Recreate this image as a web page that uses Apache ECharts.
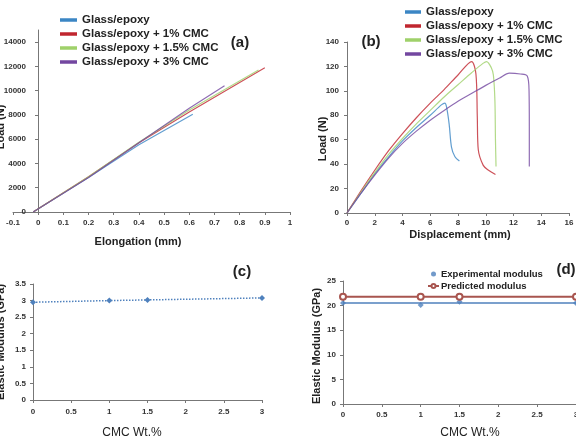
<!DOCTYPE html>
<html>
<head>
<meta charset="utf-8">
<script src="https://cdn.jsdelivr.net/npm/echarts@6/dist/echarts.min.js"></script>
<style>
html, body { margin: 0; padding: 0; background: #fff; }
#main { width: 576px; height: 443px; }
</style>
</head>
<body>
<div id="main"></div>
<script>
var myChart = echarts.init(document.getElementById('main'));

// legend names, shared by (a) and (b)
var names = ['Glass/epoxy', 'Glass/epoxy + 1% CMC', 'Glass/epoxy + 1.5% CMC', 'Glass/epoxy + 3% CMC'];
var colors = ['#3b86c4', '#c0262f', '#9fd16a', '#7347a0'];

// (a) load (N) vs elongation (mm)
var elongA0 = [[-0.02, 0], [0.2, 2850], [0.4, 5550], [0.614, 8050]];
var elongA1 = [[-0.02, 0], [0.2, 2900], [0.4, 5700], [0.6, 8250], [0.9, 11890]];
var elongA2 = [[-0.02, 0], [0.2, 2900], [0.4, 5750], [0.6, 8400], [0.875, 11700]];
var elongA3 = [[-0.02, 0], [0.2, 2850], [0.4, 5700], [0.6, 8550], [0.74, 10400]];

// (b) load (N) vs displacement (mm)
var dispB0 = [[0, 0], [1, 16], [2, 32], [3, 46], [4, 59], [5, 70], [6, 80], [6.8, 88.5], [7.05, 90],
  [7.17, 87], [7.36, 73], [7.53, 54], [7.78, 46], [8.1, 42.5]];
var dispB1 = [[0, 0], [1, 18], [2, 35], [3, 51], [4, 65], [5, 78], [6, 90], [7, 101], [8, 113], [8.98, 124],
  [9.29, 114], [9.39, 79], [9.46, 52], [9.82, 39], [10.2, 35], [10.7, 31.5]];
var dispB2 = [[0, 0], [1, 17], [2, 33], [3, 48], [4, 61], [5, 73], [6, 84], [7, 95], [8, 105], [9, 115],
  [9.8, 122.5], [10.06, 124], [10.4, 119], [10.55, 113], [10.66, 92], [10.7, 60], [10.74, 38]];
var dispB3 = [[0, 0], [1, 16], [2, 31], [3, 45], [4, 57], [5, 67], [6, 76], [7, 84], [8, 91.5], [9, 98],
  [10, 104.5], [11, 110.5], [11.7, 114.5], [12.5, 113.8], [12.99, 112.2], [13.12, 100], [13.14, 70], [13.14, 38]];

// (c) elastic modulus (GPa) vs CMC wt.%
var cmcX = [0, 1, 1.5, 3];
var modulusC = [2.95, 3.0, 3.02, 3.08];

// (d) experimental vs predicted modulus (GPa)
var modulusExp = [20.55, 20.1, 20.8, 20.55];
var modulusPred = [21.8, 21.8, 21.8, 21.8];
var modulusExpTrend = [[0, 20.55], [3, 20.55]];

function pairs(xs, ys) {
  return xs.map(function (x, i) { return [x, ys[i]]; });
}

var FONT = 'Liberation Sans, Arial, sans-serif';
var labelStyle = { fontSize: 8, fontWeight: 'bold', color: '#333', fontFamily: FONT };
var lineAxis = { show: true, onZero: true, lineStyle: { color: '#777', width: 1 } };

function valAxis(idx, min, max, interval, margin, extra) {
  var a = {
    type: 'value', gridIndex: idx, min: min, max: max, interval: interval,
    splitLine: { show: false },
    axisLine: lineAxis,
    axisTick: { show: true, length: 3, lineStyle: { color: '#777' } },
    axisLabel: Object.assign({ margin: margin }, labelStyle)
  };
  return Object.assign(a, extra || {});
}

function text(str, x, y, size, weight, rot) {
  return {
    type: 'text', x: x, y: y, rotation: rot || 0,
    style: {
      text: str, x: 0, y: 0, align: 'center', verticalAlign: 'middle',
      font: (weight || 'bold') + ' ' + size + 'px ' + FONT, fill: '#222'
    }
  };
}

var series = [];
[elongA0, elongA1, elongA2, elongA3].forEach(function (d, i) {
  series.push({ name: names[i], type: 'line', xAxisIndex: 0, yAxisIndex: 0, data: d,
    showSymbol: false, color: colors[i], lineStyle: { width: 1.2, opacity: 0.8 } });
});
[dispB0, dispB1, dispB2, dispB3].forEach(function (d, i) {
  series.push({ name: names[i], type: 'line', xAxisIndex: 1, yAxisIndex: 1, data: d,
    showSymbol: false, smooth: 0.3, color: colors[i], lineStyle: { width: 1.2, opacity: 0.8 } });
});
series.push({ type: 'line', xAxisIndex: 2, yAxisIndex: 2, data: pairs(cmcX, modulusC),
  symbol: 'diamond', symbolSize: 6, color: '#4f81bd',
  lineStyle: { type: 'dotted', width: 1.5 } });
series.push({ type: 'line', xAxisIndex: 3, yAxisIndex: 3, data: modulusExpTrend,
  showSymbol: false, color: '#4f81bd', lineStyle: { width: 1.5 } });
series.push({ name: 'Predicted modulus', type: 'line', xAxisIndex: 3, yAxisIndex: 3,
  data: pairs(cmcX, modulusPred), symbol: 'emptyCircle', symbolSize: 6, color: '#a8554f',
  itemStyle: { borderColor: '#a88a88', borderWidth: 1.5 }, lineStyle: { width: 2 } });
series.push({ name: 'Experimental modulus', type: 'scatter', xAxisIndex: 3, yAxisIndex: 3,
  data: pairs(cmcX, modulusExp), symbol: 'diamond', symbolSize: 6, color: '#4f81bd' });

var legendText = { fontSize: 11.5, fontWeight: 'bold', color: '#222', fontFamily: FONT, lineHeight: 14 };

var option = {
  animation: false,
  backgroundColor: '#fff',
  grid: [
    { left: 13, right: 286, top: 30, bottom: 231, outerBoundsMode: 'none' },
    { left: 347, right: 7, top: 42, bottom: 230, outerBoundsMode: 'none' },
    { left: 33, right: 314, top: 284, bottom: 43, outerBoundsMode: 'none' },
    { left: 343, right: 0, top: 281, bottom: 39, outerBoundsMode: 'none' }
  ],
  xAxis: [
    valAxis(0, -0.1, 1, 0.1, 7),
    valAxis(1, 0, 16, 2, 6),
    valAxis(2, 0, 3, 0.5, 8),
    valAxis(3, 0, 3, 0.5, 7)
  ],
  yAxis: [
    // the vertical axis of (a) crosses at elongation 0, inside the grid
    valAxis(0, 0, 15000, 2000, 12, {
      offset: -25,
      axisLine: { show: true, onZero: false, lineStyle: { color: '#777', width: 1 } },
      axisLabel: Object.assign({ margin: 12, showMaxLabel: false,
        formatter: function (v) { return String(v); } }, labelStyle)
    }),
    valAxis(1, 0, 140, 20, 8),
    valAxis(2, 0, 3.5, 0.5, 7),
    valAxis(3, 0, 25, 5, 7)
  ],
  legend: [
    { data: names, orient: 'vertical', left: 55, top: 8, icon: 'rect', itemWidth: 17, itemHeight: 3.5,
      itemGap: 0, textStyle: legendText },
    { data: names, orient: 'vertical', left: 400, top: 0, icon: 'rect', itemWidth: 16, itemHeight: 3.5,
      itemGap: 0, textStyle: legendText },
    { data: [{ name: 'Experimental modulus', icon: 'circle' }, 'Predicted modulus'],
      orient: 'vertical', left: 422, top: 263, itemWidth: 11, itemHeight: 5, itemGap: 0,
      textStyle: { fontSize: 9.5, fontWeight: 'bold', color: '#222', fontFamily: FONT, lineHeight: 12, padding: [0, 0, 0, -3] } }
  ],
  graphic: [
    text('Load (N)', 1, 127, 11, 'bold', Math.PI / 2),
    text('Elongation (mm)', 138, 242, 11),
    text('(a)', 240, 43, 15),
    text('Load (N)', 323, 139, 11, 'bold', Math.PI / 2),
    text('Displacement (mm)', 460, 235, 11),
    text('(b)', 371, 42, 15),
    text('Elastic Modulus (GPa)', 1, 342, 11, 'bold', Math.PI / 2),
    text('CMC Wt.%', 132, 433, 12, 'normal'),
    text('(c)', 242, 272, 15),
    text('Elastic Modulus (GPa)', 317, 346, 11, 'bold', Math.PI / 2),
    text('CMC Wt.%', 470, 433, 12, 'normal'),
    text('(d)', 566, 270, 15)
  ],
  series: series
};

myChart.setOption(option);
</script>
</body>
</html>
